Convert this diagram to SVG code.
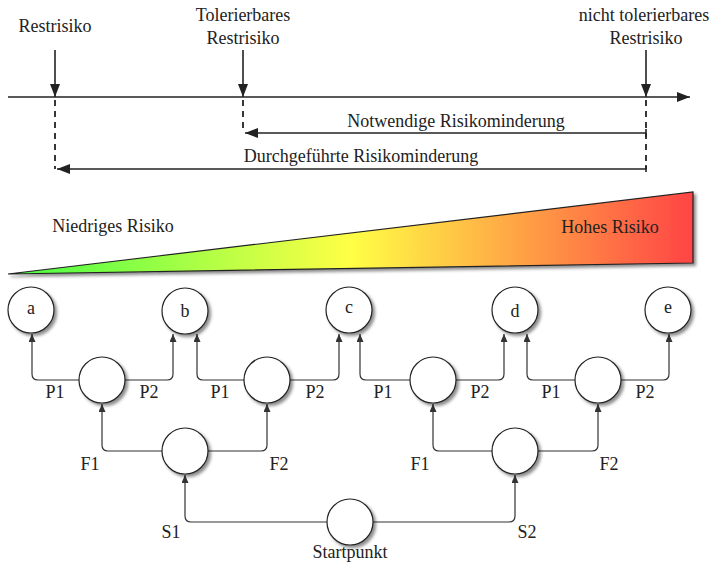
<svg xmlns="http://www.w3.org/2000/svg" width="715" height="569" viewBox="0 0 715 569">
<style>
text{font-family:"Liberation Serif","Times New Roman",serif;font-size:18px;fill:#222;text-anchor:middle}
.ln{fill:none;stroke:#222;stroke-width:1.6}
.dash{fill:none;stroke:#222;stroke-width:1.8;stroke-dasharray:6,5}
.cn{fill:none;stroke:#333;stroke-width:1.2}
.nd{fill:#fff;stroke:#222;stroke-width:1.2;filter:url(#sh)}
</style>
<defs>
<marker id="big" markerUnits="userSpaceOnUse" markerWidth="13" markerHeight="10" refX="13" refY="5" orient="auto"><path d="M0,0 L13,5 L0,10 z" fill="#222"/></marker>
<marker id="sm" markerUnits="userSpaceOnUse" markerWidth="8" markerHeight="7" refX="8" refY="3.5" orient="auto"><path d="M0,0 L8,3.5 L0,7 z" fill="#333"/></marker>
<filter id="sh" x="-30%" y="-30%" width="160%" height="160%"><feDropShadow dx="2.5" dy="2.5" stdDeviation="1.8" flood-color="#000" flood-opacity="0.45"/></filter>
<linearGradient id="grad" x1="8" y1="0" x2="693" y2="0" gradientUnits="userSpaceOnUse">
<stop offset="0" stop-color="#44ff44"/><stop offset="0.5" stop-color="#ffff44"/><stop offset="1" stop-color="#ff4444"/>
</linearGradient>
</defs>
<g id="scale">
<path class="ln" d="M8,97 H690" marker-end="url(#big)"/>
<path class="ln" d="M55,50 V97" marker-end="url(#big)"/>
<path class="ln" d="M243,50 V97" marker-end="url(#big)"/>
<path class="ln" d="M646,50 V97" marker-end="url(#big)"/>
<path class="dash" d="M55,100 V169"/>
<path class="dash" d="M243,100 V133"/>
<path class="dash" d="M646,100 V169"/>
<path class="ln" d="M646,133 H245" marker-end="url(#big)"/>
<path class="ln" d="M646,129 V137"/>
<path class="ln" d="M646,169 H57" marker-end="url(#big)"/>
<path class="ln" d="M646,165 V172"/>
<text x="55" y="32">Restrisiko</text>
<text x="243" y="21">Tolerierbares</text>
<text x="243" y="44">Restrisiko</text>
<text x="644" y="21">nicht tolerierbares</text>
<text x="646" y="44">Restrisiko</text>
<text x="456" y="127">Notwendige Risikominderung</text>
<text x="361" y="162">Durchgeführte Risikominderung</text>
</g>
<g id="wedge">
<path d="M8,274 L693,192 L693,263 Z" fill="url(#grad)" stroke="#222" stroke-width="1.2" filter="url(#sh)"/>
<text x="113" y="232">Niedriges Risiko</text>
<text x="610" y="233">Hohes Risiko</text>
</g>
<g id="connectors">
<path class="cn" d="M79,380 H38 Q32,380 32,374 V334" marker-end="url(#sm)"/>
<path class="cn" d="M125,380 H167 Q173,380 173,374 V334" marker-end="url(#sm)"/>
<path class="cn" d="M244,380 H203 Q197,380 197,374 V334" marker-end="url(#sm)"/>
<path class="cn" d="M290,380 H333 Q339,380 339,374 V334" marker-end="url(#sm)"/>
<path class="cn" d="M410,380 H366 Q360,380 360,374 V334" marker-end="url(#sm)"/>
<path class="cn" d="M456,380 H498 Q504,380 504,374 V334" marker-end="url(#sm)"/>
<path class="cn" d="M575,380 H533 Q527,380 527,374 V334" marker-end="url(#sm)"/>
<path class="cn" d="M621,380 H663 Q669,380 669,374 V334" marker-end="url(#sm)"/>
<path class="cn" d="M162,451 H108 Q102,451 102,445 V404" marker-end="url(#sm)"/>
<path class="cn" d="M208,451 H261 Q267,451 267,445 V404" marker-end="url(#sm)"/>
<path class="cn" d="M492,451 H439 Q433,451 433,445 V404" marker-end="url(#sm)"/>
<path class="cn" d="M538,451 H592 Q598,451 598,445 V404" marker-end="url(#sm)"/>
<path class="cn" d="M327,522 H191 Q185,522 185,516 V475" marker-end="url(#sm)"/>
<path class="cn" d="M373,522 H509 Q515,522 515,516 V475" marker-end="url(#sm)"/>
<text x="55" y="398">P1</text>
<text x="149" y="398">P2</text>
<text x="220" y="398">P1</text>
<text x="315" y="398">P2</text>
<text x="383" y="398">P1</text>
<text x="480" y="398">P2</text>
<text x="551" y="398">P1</text>
<text x="645" y="398">P2</text>
<text x="90" y="470">F1</text>
<text x="279" y="470">F2</text>
<text x="420" y="470">F1</text>
<text x="609" y="470">F2</text>
<text x="171" y="538">S1</text>
<text x="527" y="538">S2</text>
</g>
<g id="node-a"><circle class="nd" cx="31" cy="310" r="23"/><text x="31" y="314">a</text></g>
<g id="node-b"><circle class="nd" cx="185" cy="311" r="23"/><text x="185" y="317">b</text></g>
<g id="node-c"><circle class="nd" cx="349" cy="310" r="23"/><text x="349" y="313">c</text></g>
<g id="node-d"><circle class="nd" cx="515" cy="310" r="23"/><text x="515" y="317">d</text></g>
<g id="node-e"><circle class="nd" cx="668" cy="310" r="23"/><text x="668" y="313">e</text></g>
<g id="node-p1"><circle class="nd" cx="102" cy="380" r="23"/></g>
<g id="node-p2"><circle class="nd" cx="267" cy="380" r="23"/></g>
<g id="node-p3"><circle class="nd" cx="433" cy="380" r="23"/></g>
<g id="node-p4"><circle class="nd" cx="598" cy="380" r="23"/></g>
<g id="node-f1"><circle class="nd" cx="185" cy="451" r="23"/></g>
<g id="node-f2"><circle class="nd" cx="515" cy="451" r="23"/></g>
<g id="node-start"><circle class="nd" cx="350" cy="522" r="23"/><text x="350" y="558">Startpunkt</text></g>
</svg>
